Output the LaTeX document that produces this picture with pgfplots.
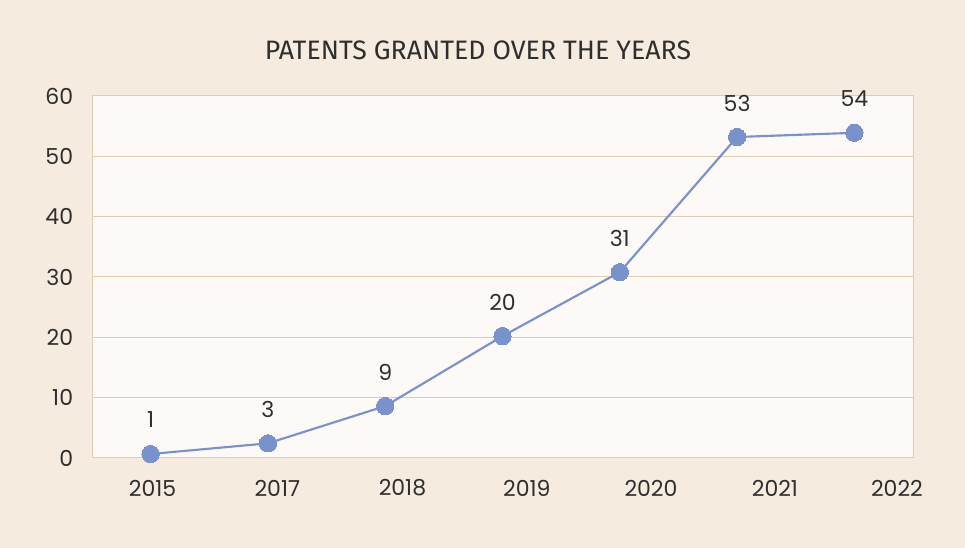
\documentclass[border=0pt]{standalone}
\usepackage{fontspec}
\setmainfont{Poppins}
\newfontfamily\titlefont{Fira Sans}
\usepackage{pgfplots}
\usepackage{pgfplotstable}
\pgfplotsset{compat=1.18}

\definecolor{bgout}{HTML}{F5ECDF}
\definecolor{bgplot}{HTML}{FDF9F6}
\definecolor{gridc}{HTML}{E3CBAE}
\definecolor{linec}{HTML}{7892CC}
\definecolor{txt}{HTML}{2E2E2E}

% year, value (as drawn), label shown above the point
\pgfplotstableread{
x y lbl
0 0.66 1
1 2.43 3
2 8.6 9
3 20.2 20
4 30.8 31
5 53.2 53
6 53.9 54
}\patents

\begin{document}
\begin{tikzpicture}
\fill[bgout] (0,0) rectangle (723.75pt,411pt);
\node[text=txt, font=\titlefont\fontsize{20}{24}\selectfont] at (358.5pt,373pt) {PATENTS GRANTED OVER THE YEARS};
\begin{axis}[
    at={(69pt,67.5pt)}, anchor=south west,
    scale only axis,
    width=615.75pt, height=271.5pt,
    axis background/.style={fill=bgplot},
    axis line style={gridc, line width=0.75pt},
    xmin=-0.5, xmax=6.5,
    ymin=0, ymax=60,
    ytick={0,10,...,60},
    xtick={0.016,1.08,2.147,3.208,4.266,5.323,6.363},
    xticklabels={2015,2017,2018,2019,2020,2021,2022},
    major tick length=0pt,
    ymajorgrids,
    grid style={gridc, line width=0.75pt},
    /pgf/number format/assume math mode=true,
    tick label style={font=\fontsize{16.5}{19}\selectfont, text=txt, inner sep=0pt},
    xticklabel style={anchor=center, yshift=-22.5pt},
    yticklabel style={anchor=east, xshift=-14pt},
    clip=false,
]
\addplot[linec, line width=1.6pt, mark=*, mark size=6.5pt,
    mark options={fill=linec, draw=linec, line width=0pt},
    nodes near coords, point meta=explicit symbolic,
    nodes near coords style={anchor=center, yshift=25.5pt, text=txt,
        font=\fontsize{16.5}{19}\selectfont}]
    table[x=x, y=y, meta=lbl] {\patents};
\end{axis}
\pgfresetboundingbox
\path[use as bounding box] (0,0) rectangle (723.75pt,411pt);
\end{tikzpicture}
\end{document}
